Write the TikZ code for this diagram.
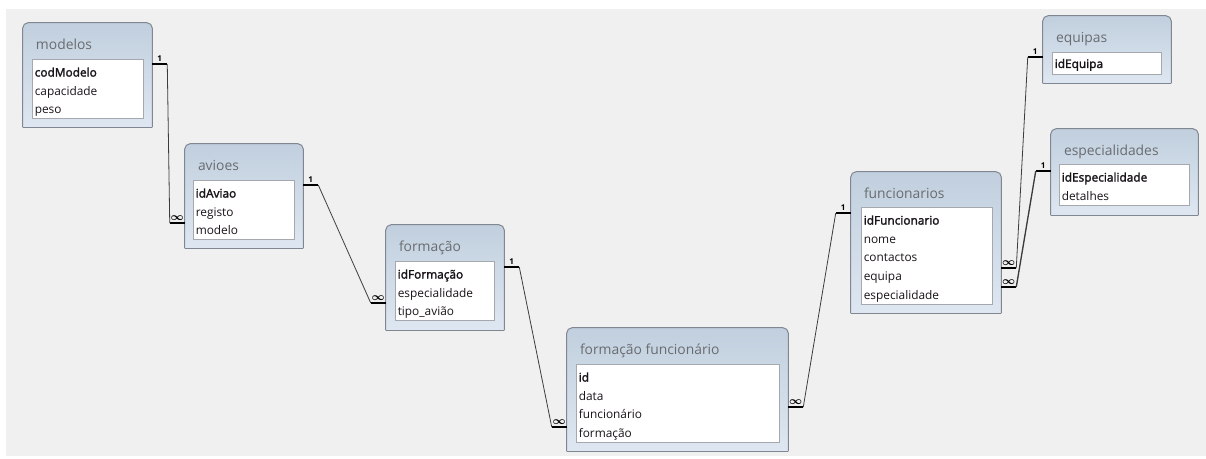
\documentclass[tikz,border=0pt]{standalone}
\usepackage{fontspec}
\setmainfont{Open Sans}
\newfontfamily\chave{Open Sans}[FakeBold=2]
\usetikzlibrary{calc,fit}

\definecolor{fundo}{RGB}{240,240,240}
\definecolor{topo}{RGB}{193,207,222}
\definecolor{base}{RGB}{222,231,241}
\definecolor{moldura}{RGB}{128,135,145}
\definecolor{listaborda}{RGB}{165,168,172}
\definecolor{textotitulo}{RGB}{105,108,112}
\definecolor{textocampo}{RGB}{25,20,25}
\definecolor{linha}{RGB}{60,60,60}

\begin{document}
\begin{tikzpicture}[x=0.75pt,y=0.75pt,yscale=-1,xscale=1,
  tabela/.style={inner sep=0pt},
  lista/.style={fill=white, draw=listaborda, line width=0.75pt, inner sep=0pt},
  campos/.style={anchor=north west, align=left, inner xsep=2.25pt, inner ysep=6.6pt, text=textocampo, font=\fontsize{8.9}{14}\selectfont},
  titulo/.style={anchor=base west, inner sep=0pt, text=textotitulo, font=\fontsize{10.4}{12}\selectfont},
  pe/.style={line width=2.2pt, black},
  liga/.style={line width=0.6pt, linha},
  um/.style={above, inner sep=1pt, font=\bfseries\fontsize{6}{6}\selectfont},
  muitos/.style={above, inner sep=0.8pt, font=\boldmath\fontsize{8.5}{8.5}\selectfont}]
\useasboundingbox (0,0) rectangle (1206,458);

%Background
\fill [fundo] (6,9) rectangle (1206,456);

%Tables (frames)
\node [tabela, fit={(23,23) (152,127)}] (modelos) {};
\node [tabela, fit={(185,144) (303,248)}] (avioes) {};
\node [tabela, fit={(386,225) (504,330)}] (formacao) {};
\node [tabela, fit={(567,328) (788,451)}] (formacaofunc) {};
\node [tabela, fit={(851,172) (1001,313)}] (funcionarios) {};
\node [tabela, fit={(1043,16) (1171,83)}] (equipas) {};
\node [tabela, fit={(1051,129) (1198,215)}] (especialidades) {};

\foreach \t in {modelos,avioes,formacao,formacaofunc,funcionarios,equipas,especialidades}{
  \shade [top color=topo, bottom color=base, draw=moldura, line width=0.75pt, rounded corners=4]
    (\t.south west) -- (\t.north west) -- (\t.north east) -- (\t.south east);
  \draw [moldura, line width=0.75pt] (\t.south west) -- (\t.south east);
  }

% Text Node
\node [titulo] (modelos-titulo) at ($(modelos.north west)+(13,27)$) {modelos};
\node [titulo] (avioes-titulo) at ($(avioes.north west)+(13,27)$) {avioes};
\node [titulo] (formacao-titulo) at ($(formacao.north west)+(13,27)$) {formação};
\node [titulo] (formacaofunc-titulo) at ($(formacaofunc.north west)+(13,27)$) {formação funcionário};
\node [titulo] (funcionarios-titulo) at ($(funcionarios.north west)+(13,27)$) {funcionarios};
\node [titulo] (equipas-titulo) at ($(equipas.north west)+(13,27)$) {equipas};
\node [titulo] (especialidades-titulo) at ($(especialidades.north west)+(13,27)$) {especialidades};

%Field lists
\node [lista, fit={(32,59) (143,118)}] (modelos-lista) {};
\node [lista, fit={(193,180) (294,239)}] (avioes-lista) {};
\node [lista, fit={(395,261) (494,320)}] (formacao-lista) {};
\node [lista, fit={(576,364) (779,442)}] (formacaofunc-lista) {};
\node [lista, fit={(861,207) (992,304)}] (funcionarios-lista) {};
\node [lista, fit={(1052,52) (1161,74)}] (equipas-lista) {};
\node [lista, fit={(1059,164) (1189,205)}] (especialidades-lista) {};

% Text Node
\node [campos] (modelos-campos) at (modelos-lista.north west) {{\chave codModelo}\\capacidade\\peso};
\node [campos] (avioes-campos) at (avioes-lista.north west) {{\chave idAviao}\\registo\\modelo};
\node [campos] (formacao-campos) at (formacao-lista.north west) {{\chave idFormação}\\especialidade\\tipo\_avião};
\node [campos] (formacaofunc-campos) at (formacaofunc-lista.north west) {{\chave id}\\data\\funcionário\\formação};
\node [campos] (funcionarios-campos) at (funcionarios-lista.north west) {{\chave idFuncionario}\\nome\\contactos\\equipa\\especialidade};
\node [campos, inner ysep=5.4pt] (equipas-campos) at (equipas-lista.north west) {{\chave idEquipa}};
\node [campos] (especialidades-campos) at (especialidades-lista.north west) {{\chave idEspecialidade}\\detalhes};

%Straight Lines modelos - avioes
\draw [pe] (modelos.east |- 0,64) -- ++(15,0) coordinate (r1a) node [midway, um] (r1u) {1};
\draw [pe] (avioes.west |- 0,223) -- ++(-15,0) coordinate (r1b) node [midway, muitos] (r1m) {$\infty$};
\draw [liga] (r1a) -- (r1b);

%Straight Lines avioes - formacao
\draw [pe] (avioes.east |- 0,185) -- ++(15,0) coordinate (r2a) node [midway, um] (r2u) {1};
\draw [pe] (formacao.west |- 0,303) -- ++(-15,0) coordinate (r2b) node [midway, muitos] (r2m) {$\infty$};
\draw [liga] (r2a) -- (r2b);

%Straight Lines formacao - formacaofunc
\draw [pe] (formacao.east |- 0,267) -- ++(15,0) coordinate (r3a) node [midway, um] (r3u) {1};
\draw [pe] (formacaofunc.west |- 0,427) -- ++(-15,0) coordinate (r3b) node [midway, muitos] (r3m) {$\infty$};
\draw [liga] (r3a) -- (r3b);

%Straight Lines formacaofunc - funcionarios
\draw [pe] (formacaofunc.east |- 0,407) -- ++(15,0) coordinate (r4a) node [midway, muitos] (r4m) {$\infty$};
\draw [pe] (funcionarios.west |- 0,213) -- ++(-15,0) coordinate (r4b) node [midway, um] (r4u) {1};
\draw [liga] (r4a) -- (r4b);

%Straight Lines funcionarios - equipas
\draw [pe] (funcionarios.east |- 0,268) -- ++(15,0) coordinate (r5a) node [midway, muitos] (r5m) {$\infty$};
\draw [pe] (equipas.west |- 0,57) -- ++(-15,0) coordinate (r5b) node [midway, um] (r5u) {1};
\draw [liga] (r5a) -- (r5b);

%Straight Lines funcionarios - especialidades
\draw [pe] (funcionarios.east |- 0,287) -- ++(15,0) coordinate (r6a) node [midway, muitos] (r6m) {$\infty$};
\draw [pe] (especialidades.west |- 0,171) -- ++(-15,0) coordinate (r6b) node [midway, um] (r6u) {1};
\draw [liga, line width=1pt] (r6a) -- (r6b);

\end{tikzpicture}
\end{document}
